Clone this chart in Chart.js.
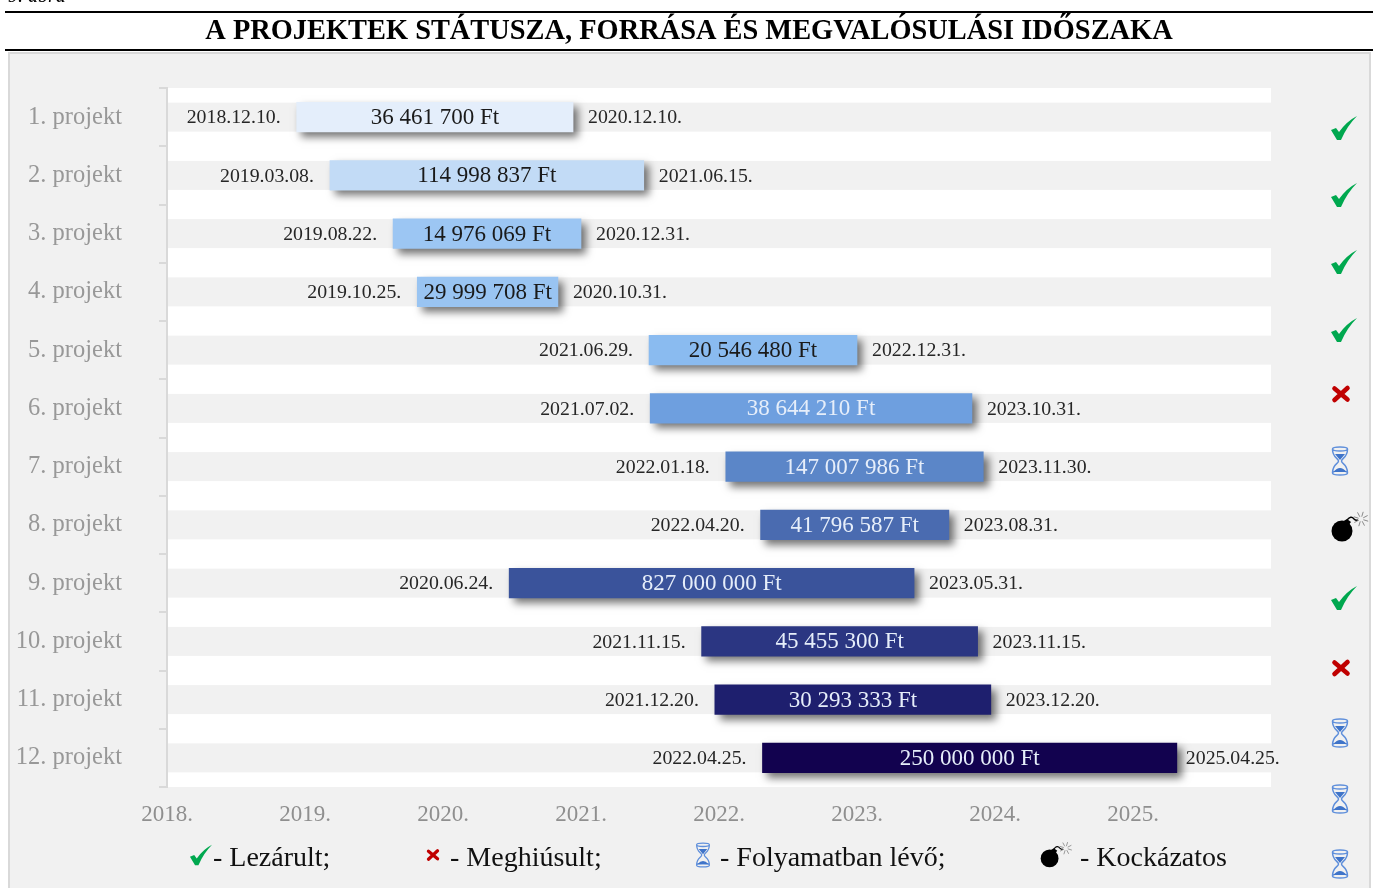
<!DOCTYPE html>
<html lang="hu">
<head>
    <meta charset="UTF-8">
    <title>A projektek státusza, forrása és megvalósulási időszaka</title>
    <script src="https://cdn.jsdelivr.net/npm/chart.js"></script>
    <style>
        html, body { margin: 0; padding: 0; background: #fff; overflow: hidden; }
        canvas { display: block; }
    </style>
</head>
<body>
    <div style="width:1373px;height:888px;position:relative">
        <canvas id="myChart"></canvas>
    </div>

    <script>
        const projects = ['1. projekt', '2. projekt', '3. projekt', '4. projekt', '5. projekt', '6. projekt',
            '7. projekt', '8. projekt', '9. projekt', '10. projekt', '11. projekt', '12. projekt'];
        const startDates = ['2018.12.10.', '2019.03.08.', '2019.08.22.', '2019.10.25.', '2021.06.29.', '2021.07.02.',
            '2022.01.18.', '2022.04.20.', '2020.06.24.', '2021.11.15.', '2021.12.20.', '2022.04.25.'];
        const endDates = ['2020.12.10.', '2021.06.15.', '2020.12.31.', '2020.10.31.', '2022.12.31.', '2023.10.31.',
            '2023.11.30.', '2023.08.31.', '2023.05.31.', '2023.11.15.', '2023.12.20.', '2025.04.25.'];
        const amounts = ['36 461 700 Ft', '114 998 837 Ft', '14 976 069 Ft', '29 999 708 Ft', '20 546 480 Ft', '38 644 210 Ft',
            '147 007 986 Ft', '41 796 587 Ft', '827 000 000 Ft', '45 455 300 Ft', '30 293 333 Ft', '250 000 000 Ft'];
        const yearLabels = ['2018.', '2019.', '2020.', '2021.', '2022.', '2023.', '2024.', '2025.'];
        const statuses = ['ok', 'ok', 'ok', 'ok', 'fail', 'wait', 'risk', 'ok', 'fail', 'wait', 'wait', 'wait'];
        const legendItems = [['ok', '- Lezárult;'], ['fail', '- Meghiúsult;'], ['wait', '- Folyamatban lévő;'], ['risk', '- Kockázatos']];

        const barColors = ['#e4eefb', '#c2dbf6', '#9cc6f3', '#99c4f2', '#8abbf0', '#6e9fdf',
            '#5b86c8', '#4a6bb0', '#3a539b', '#2b3682', '#1e1f6e', '#12024f'];
        const labelColors = ['#1a1a1a', '#1a1a1a', '#1a1a1a', '#1a1a1a', '#1a1a1a', '#e6eefa',
            '#e6eefa', '#e6eefa', '#e6eefa', '#e6eefa', '#e6eefa', '#e6eefa'];

        const SERIF = '"Liberation Serif", serif';
        const DAY = 86400000;
        const dayOf = s => {
            const [y, m, d] = s.split('.').map(Number);
            return Math.round((Date.UTC(y, m - 1, d) - Date.UTC(2018, 0, 1)) / DAY);
        };

        // status icons, drawn around a centre point
        function drawIcon(ctx, kind, x, y, k) {
            ctx.save();
            ctx.translate(x, y);
            ctx.scale(k, k);
            if (kind === 'ok') {
                ctx.fillStyle = '#00a84f';
                ctx.beginPath();
                ctx.moveTo(-13, 2);
                ctx.lineTo(-8, 0);
                ctx.lineTo(-5, 4);
                ctx.quadraticCurveTo(3, -7, 13, -12);
                ctx.quadraticCurveTo(3, -2, -3, 12);
                ctx.lineTo(-7, 12);
                ctx.closePath();
                ctx.fill();
            } else if (kind === 'fail') {
                ctx.strokeStyle = '#c00000';
                ctx.lineWidth = 4.6;
                ctx.lineCap = 'round';
                ctx.beginPath();
                ctx.moveTo(-6.5, -5.5);
                ctx.lineTo(6.5, 5.5);
                ctx.moveTo(6.5, -6);
                ctx.lineTo(-6.5, 6);
                ctx.stroke();
            } else if (kind === 'wait') {
                ctx.strokeStyle = '#5f8fdb';
                ctx.lineWidth = 1.5;
                ctx.beginPath();
                ctx.ellipse(0, -12, 7.5, 2, 0, 0, Math.PI * 2);
                ctx.moveTo(7.5, 12);
                ctx.ellipse(0, 12, 7.5, 2, 0, 0, Math.PI * 2);
                ctx.moveTo(-7.5, -12);
                ctx.bezierCurveTo(-7.5, -3, -1.5, -3, -1.5, 0);
                ctx.bezierCurveTo(-1.5, 3, -7.5, 3, -7.5, 12);
                ctx.moveTo(7.5, -12);
                ctx.bezierCurveTo(7.5, -3, 1.5, -3, 1.5, 0);
                ctx.bezierCurveTo(1.5, 3, 7.5, 3, 7.5, 12);
                ctx.stroke();
                ctx.fillStyle = '#3f74c9';
                ctx.beginPath();
                ctx.moveTo(-5, -7);
                ctx.lineTo(5, -7);
                ctx.lineTo(0, -1);
                ctx.closePath();
                ctx.moveTo(-6.5, 11);
                ctx.quadraticCurveTo(0, 3, 6.5, 11);
                ctx.closePath();
                ctx.fill();
            } else {
                ctx.fillStyle = '#000';
                ctx.beginPath();
                ctx.arc(-4, 4, 10.5, 0, Math.PI * 2);
                ctx.fill();
                ctx.beginPath();
                ctx.moveTo(1, -8);
                ctx.lineTo(5, -5);
                ctx.lineTo(1, 0);
                ctx.lineTo(-4, -5);
                ctx.closePath();
                ctx.fill();
                ctx.strokeStyle = '#000';
                ctx.lineWidth = 1.4;
                ctx.beginPath();
                ctx.moveTo(1, -7);
                ctx.quadraticCurveTo(5, -12, 8, -8);
                ctx.quadraticCurveTo(10, -6, 12, -7);
                ctx.stroke();
                ctx.strokeStyle = '#8a8a8a';
                ctx.lineWidth = 1;
                ctx.beginPath();
                for (let i = 0; i < 8; i++) {
                    const a = i * Math.PI / 4 + 0.3;
                    ctx.moveTo(15 + Math.cos(a) * 2.5, -8 + Math.sin(a) * 2.5);
                    ctx.lineTo(15 + Math.cos(a) * 7.5, -8 + Math.sin(a) * 7.5);
                }
                ctx.stroke();
            }
            ctx.restore();
        }

        const pagePlugin = {
            id: 'pagePlugin',
            beforeDraw(chart) {
                const {ctx, chartArea: a} = chart;
                ctx.save();
                // grey panel
                ctx.fillStyle = '#f1f1f1';
                ctx.fillRect(9, 53, 1361, 840);
                ctx.strokeStyle = '#d9d9d9';
                ctx.lineWidth = 2;
                ctx.strokeRect(9, 53, 1361, 840);
                // heading rules
                ctx.fillStyle = '#000';
                ctx.fillRect(5, 11, 1368, 2);
                ctx.fillRect(5, 49, 1368, 2);
                ctx.textBaseline = 'alphabetic';
                ctx.font = 'italic 20px ' + SERIF;
                ctx.fillText('9. ábra', 8, 2);
                ctx.font = 'bold 28.4px ' + SERIF;
                ctx.textAlign = 'center';
                ctx.fillText('A PROJEKTEK STÁTUSZA, FORRÁSA ÉS MEGVALÓSULÁSI IDŐSZAKA', 689, 39);
                // white plot area with grey stripe on every row
                ctx.fillStyle = '#fff';
                ctx.fillRect(a.left, a.top, a.right - a.left, a.bottom - a.top);
                ctx.fillStyle = '#f1f1f1';
                const y = chart.scales.y;
                projects.forEach((p, i) => {
                    ctx.fillRect(a.left, y.getPixelForValue(i) - 14.5, a.right - a.left, 29);
                });
                ctx.restore();
            },
            beforeDatasetDraw(chart) {
                const {ctx} = chart;
                ctx.save();
                ctx.shadowColor = 'rgba(0,0,0,0.55)';
                ctx.shadowBlur = 8;
                ctx.shadowOffsetX = 5;
                ctx.shadowOffsetY = 5;
            },
            afterDatasetDraw(chart) {
                chart.ctx.restore();
            },
            afterDraw(chart) {
                const {ctx} = chart;
                const x = chart.scales.x, y = chart.scales.y;
                ctx.save();
                ctx.textBaseline = 'middle';
                projects.forEach((p, i) => {
                    const yy = y.getPixelForValue(i);
                    const x0 = x.getPixelForValue(dayOf(startDates[i]));
                    const x1 = x.getPixelForValue(dayOf(endDates[i]));
                    ctx.font = '19.8px ' + SERIF;
                    ctx.fillStyle = '#262626';
                    ctx.textAlign = 'right';
                    ctx.fillText(startDates[i], x0 - 16, yy + 1);
                    ctx.textAlign = 'left';
                    ctx.fillText(endDates[i], x1 + (i === 11 ? 9 : 15), yy + 1);
                    ctx.font = '23px ' + SERIF;
                    ctx.fillStyle = labelColors[i];
                    ctx.textAlign = 'center';
                    ctx.fillText(amounts[i], (x0 + x1) / 2, yy + 1);
                });

                // the status column runs at its own spacing, it does not follow the rows
                const iconX = {ok: 1344, fail: 1341, wait: 1340, risk: 1346};
                const iconY = [128, 195, 262, 330, 394, 461, 527, 598, 668, 733, 799, 864];
                statuses.forEach((s, i) => drawIcon(ctx, s, iconX[s], iconY[i], 1));

                // legend
                const legendIconX = [201, 433, 703, 1053];
                const legendTextX = [213, 450, 720, 1080];
                ctx.textAlign = 'left';
                ctx.font = '28px ' + SERIF;
                ctx.fillStyle = '#111';
                legendItems.forEach(([kind, text], i) => {
                    drawIcon(ctx, kind, legendIconX[i], 855, kind === 'fail' ? 0.7 : 0.85);
                    ctx.fillText(text, legendTextX[i], 859);
                });
                ctx.restore();
            }
        };

        const config = {
            type: 'bar',
            data: {
                labels: projects,
                datasets: [{
                    data: startDates.map((s, i) => [dayOf(s), dayOf(endDates[i])]),
                    backgroundColor: barColors,
                    barThickness: 29.4,
                    borderSkipped: false
                }]
            },
            options: {
                indexAxis: 'y',
                responsive: true,
                maintainAspectRatio: false,
                animation: false,
                layout: { padding: { left: 0, top: 88, right: 102, bottom: 61 } },
                plugins: {
                    tooltip: { enabled: false },
                    legend: { display: false }
                },
                scales: {
                    x: {
                        type: 'linear',
                        min: 0,
                        max: 2920,
                        // fixed box so the plot keeps its place; labels are clipped to this box
                        afterFit(scale) { scale.height = 40; },
                        grid: { display: false },
                        border: { display: false },
                        ticks: {
                            stepSize: 365,
                            autoSkip: false,
                            maxRotation: 0,
                            padding: 6,
                            color: '#8f8f8f',
                            font: { family: SERIF, size: 23 },
                            callback: (v, i) => yearLabels[i]
                        }
                    },
                    y: {
                        afterFit(scale) { scale.width = 167; },
                        grid: { drawOnChartArea: false, color: '#d9d9d9', tickLength: 8, lineWidth: 2 },
                        border: { color: '#d9d9d9', width: 2 },
                        ticks: {
                            padding: 37,
                            color: '#989898',
                            font: { family: SERIF, size: 24.5 }
                        }
                    }
                }
            },
            plugins: [pagePlugin]
        };

        const ctx = document.getElementById('myChart').getContext('2d');
        new Chart(ctx, config);
    </script>
</body>
</html>
